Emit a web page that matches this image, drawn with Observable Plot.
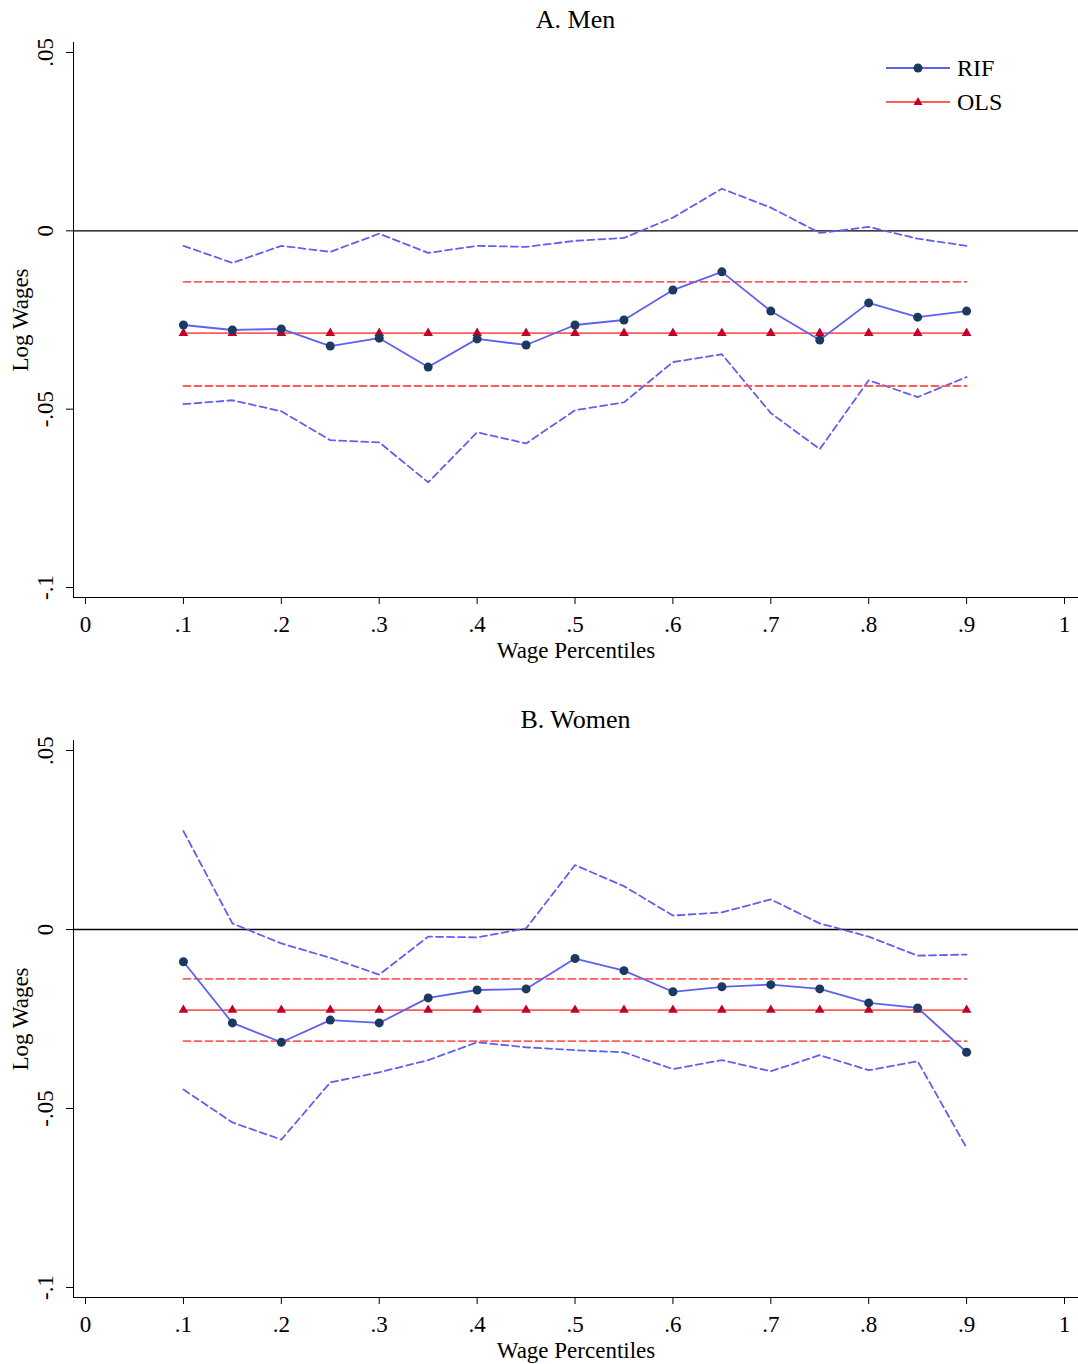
<!DOCTYPE html>
<html><head><meta charset="utf-8">
<script src="https://cdn.jsdelivr.net/npm/d3@7"></script>
<script src="https://cdn.jsdelivr.net/npm/@observablehq/plot@0.6"></script>
<style>
body{margin:0;background:#fff;font-family:"Liberation Serif",serif;}
.title{text-align:center;font-size:26px;height:35px;line-height:40px;padding-left:73px;}
.wrap{position:relative;width:1078px;}
.legend{position:absolute;left:886px;font-size:24px;}
.legend div{display:flex;align-items:center;height:34px;}
</style></head><body>
<div id="root"></div>
<script>
const pct = [.1,.15,.2,.25,.3,.35,.4,.45,.5,.55,.6,.65,.7,.75,.8,.85,.9];
const menRif = [-0.0264,-0.0278,-0.0275,-0.0323,-0.0301,-0.0382,-0.0303,-0.032,-0.0264,-0.025,-0.0166,-0.0115,-0.0225,-0.0306,-0.0202,-0.0242,-0.0225];
const menUp = [-0.0042,-0.009,-0.0042,-0.0059,-0.0008,-0.0062,-0.0042,-0.0045,-0.0028,-0.002,0.0037,0.0118,0.0065,-0.0006,0.0011,-0.0022,-0.0042];
const menLo = [-0.0486,-0.0475,-0.0506,-0.0587,-0.0593,-0.0705,-0.0565,-0.0596,-0.0503,-0.0481,-0.0368,-0.0346,-0.0511,-0.0612,-0.0419,-0.0466,-0.041];
const menOls = [-0.0287, -0.0143, -0.0435]; // estimate, upper, lower
const womRif = [-0.009,-0.0261,-0.0315,-0.0253,-0.0261,-0.0191,-0.0169,-0.0166,-0.0081,-0.0115,-0.0174,-0.016,-0.0154,-0.0166,-0.0205,-0.0219,-0.0343];
const womUp = [0.0275,0.0017,-0.0039,-0.0079,-0.0126,-0.002,-0.0022,0.0003,0.018,0.0121,0.0039,0.0048,0.0084,0.0017,-0.002,-0.0073,-0.007];
const womLo = [-0.0447,-0.0539,-0.0587,-0.0427,-0.0399,-0.0365,-0.0315,-0.0329,-0.0337,-0.0343,-0.039,-0.0365,-0.0396,-0.0351,-0.0393,-0.0368,-0.061];
const womOls = [-0.0225, -0.0138, -0.0312];
const xTicks = [0,.1,.2,.3,.4,.5,.6,.7,.8,.9,1];
const yTicks = [0.05,0,-0.05,-0.1];

const BLUE = "#6060f0", NAVY = "#1a3a60", RED = "#ff5c5c", DRED = "#c0002a";
const fmt = d => d === 0 ? "0" : String(d).replace("0.", ".");

const panel = (title, rif, up, lo, ols, height, mb, mt, legend) => {
  const rows = pct.map((p, i) => ({p, rif: rif[i], up: up[i], lo: lo[i]}));
  const wrap = document.createElement("div");
  wrap.className = "wrap";
  const t = document.createElement("div");
  t.className = "title"; t.textContent = title;
  wrap.appendChild(t);
  const chart = Plot.plot({
    width: 1078, height, marginLeft: 73, marginRight: 0, marginTop: mt, marginBottom: mb,
    style: {fontFamily: "Liberation Serif, serif", fontSize: "23px", color: "#000"},
    x: {domain: [-0.0123, 1.0143]},
    y: {domain: [-0.1028, 0.0528]},
    marks: [
      Plot.axisX({ticks: xTicks, tickFormat: fmt, tickSize: 7, tickPadding: 11,
                  label: "Wage Percentiles", labelAnchor: "center", labelArrow: "none", labelOffset: 60}),
      Plot.axisY({ticks: yTicks, tickFormat: fmt, tickSize: 7, tickRotate: -90, textAnchor: "middle",
                  tickPadding: 14, label: "Log Wages", labelAnchor: "center", labelArrow: "none", labelOffset: 62}),
      Plot.ruleX([-0.0123], {stroke: "#000"}),
      Plot.ruleY([-0.1028], {stroke: "#000"}),
      Plot.ruleY([0], {stroke: "#000", strokeWidth: 1.3}),
      Plot.line(rows, {x: "p", y: "up", stroke: BLUE, strokeWidth: 1.8, strokeDasharray: "7,4"}),
      Plot.line(rows, {x: "p", y: "lo", stroke: BLUE, strokeWidth: 1.8, strokeDasharray: "7,4"}),
      Plot.line(rows, {x: "p", y: () => ols[1], stroke: RED, strokeWidth: 1.8, strokeDasharray: "7,4"}),
      Plot.line(rows, {x: "p", y: () => ols[2], stroke: RED, strokeWidth: 1.8, strokeDasharray: "7,4"}),
      Plot.line(rows, {x: "p", y: () => ols[0], stroke: RED, strokeWidth: 1.8}),
      Plot.dot(rows, {x: "p", y: () => ols[0], symbol: "triangle", fill: DRED, r: 3.6}),
      Plot.line(rows, {x: "p", y: "rif", stroke: BLUE, strokeWidth: 1.8}),
      Plot.dot(rows, {x: "p", y: "rif", fill: NAVY, r: 4.5})
    ]
  });
  chart.style.display = "block";
  wrap.appendChild(chart);
  if (legend) {
    const lg = document.createElement("div");
    lg.className = "legend"; lg.style.top = "51px";
    const item = (c, mc, sym, label) =>
      `<div><svg width="71" height="20"><line x1="0" x2="64" y1="10" y2="10" stroke="${c}" stroke-width="2"/>` +
      (sym === "c" ? `<circle cx="32" cy="10" r="4.5" fill="${mc}"/>` : `<path d="M32,5 L36.5,13 L27.5,13Z" fill="${mc}"/>`) +
      `</svg>${label}</div>`;
    lg.innerHTML = item(BLUE, NAVY, "c", "RIF") + item(RED, DRED, "t", "OLS");
    wrap.appendChild(lg);
  }
  return wrap;
};

const root = document.getElementById("root");
root.appendChild(panel("A. Men", menRif, menUp, menLo, menOls, 665, 103, 7, true));
root.appendChild(panel("B. Women", womRif, womUp, womLo, womOls, 629, 67, 5, false));
</script>
</body></html>
